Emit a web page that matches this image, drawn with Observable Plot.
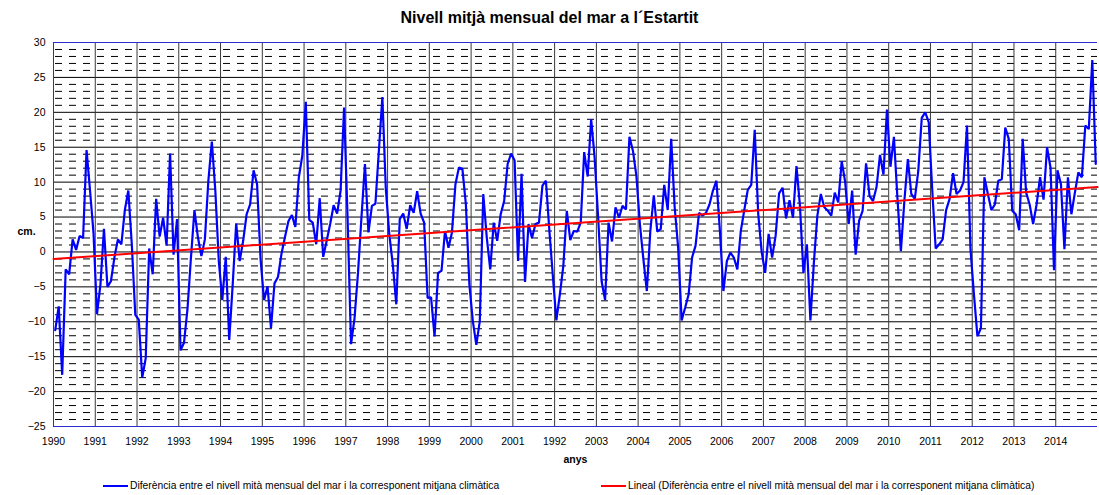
<!DOCTYPE html>
<html>
<head>
<meta charset="utf-8">
<script src="https://cdn.jsdelivr.net/npm/d3@7"></script>
<script src="https://cdn.jsdelivr.net/npm/@observablehq/plot@0.6"></script>
<style>
  html, body { margin: 0; padding: 0; background: #fff; }
  body { width: 1099px; height: 495px; overflow: hidden; font-family: Arial, "Liberation Sans", sans-serif; color: #000; }
  #title { height: 32px; line-height: 36px; text-align: center; font-weight: bold; font-size: 16px; }
  #chart svg { display: block; }
  #legend { position: relative; height: 23px; font-size: 10.3px; }
  .sw { position: absolute; top: 13px; height: 0; border-top: 2px solid; width: 25px; }
  .lt { position: absolute; top: 8px; white-space: nowrap; line-height: 12px; }
</style>
</head>
<body>
<div id="title">Nivell mitjà mensual del mar a l´Estartit</div>
<div id="chart"></div>
<div id="legend">
  <div class="sw" style="left:103px;border-color:#0000ff"></div>
  <div class="lt" style="left:130px">Diferència entre el nivell mità mensual del mar i la corresponent mitjana climàtica</div>
  <div class="sw" style="left:601px;border-color:#ff0000"></div>
  <div class="lt" style="left:628px">Lineal (Diferència entre el nivell mità mensual del mar i la corresponent mitjana climàtica)</div>
</div>
<script>
const startYear = 1990;
const yearLabels = ["1990","1991","1992","1993","1994","1995","1996","1997","1998","1999","2000","2001","1992","2003","2004","2005","2006","2007","2008","2009","2010","2011","2012","2013","2014"];
const yTicks = [-25, -20, -15, -10, -5, 0, 5, 10, 15, 20, 25, 30];
const xLabel = "anys";
const yLabel = "cm.";

// monthly difference (cm), Jan..Dec of each year from 1990 to 2014
const monthlyDiff = [
  /*1990*/ -11.2, -7.8, -17.6, -2.5, -3.2, 1.8, 0.3, 2.3, 2.0, 14.6, 8.8, 2.7,
  /*1991*/ -8.9, -4.6, 3.3, -5.0, -4.2, -0.8, 1.8, 1.1, 6.0, 8.8, 1.1, -9.0,
  /*1992*/ -9.7, -18.0, -15.2, 0.5, -3.2, 7.6, 2.2, 4.9, 0.9, 14.1, -0.4, 4.7,
  /*1993*/ -14.1, -13.0, -8.2, -0.8, 6.0, 2.1, -0.6, 1.8, 10.2, 15.8, 8.8, -1.3,
  /*1994*/ -6.9, -0.7, -12.6, -4.6, 4.1, -1.3, 1.6, 5.4, 6.8, 11.7, 9.7, -1.0,
  /*1995*/ -6.9, -4.9, -10.9, -4.5, -3.6, -0.3, 2.1, 4.4, 5.3, 3.6, 10.7, 13.8,
  /*1996*/ 21.5, 4.6, 4.2, 1.1, 7.7, -0.7, 1.6, 4.0, 6.7, 5.5, 8.8, 20.7,
  /*1997*/ 5.0, -13.2, -9.5, -3.0, 5.0, 12.6, 2.8, 6.6, 6.9, 14.5, 22.2, 9.0,
  /*1998*/ 2.5, -1.8, -7.5, 4.7, 5.5, 3.3, 6.7, 5.6, 8.7, 5.5, 4.2, -6.6,
  /*1999*/ -6.5, -12.1, -3.0, -2.7, 3.0, 0.6, 2.8, 9.7, 12.1, 11.9, 6.8, -4.6,
  /*2000*/ -9.9, -13.3, -9.9, 8.3, 2.1, -2.5, 4.2, 1.6, 5.4, 7.3, 12.6, 14.1,
  /*2001*/ 13.1, -1.3, 11.2, -4.3, 4.0, 2.0, 4.0, 4.2, 9.5, 10.2, 3.0, -3.5,
  /*2002*/ -9.8, -6.1, -2.0, 5.9, 1.7, 3.0, 2.9, 4.2, 14.3, 10.8, 19.0, 13.5,
  /*2003*/ 5.0, -4.2, -6.9, 4.2, 1.5, 6.4, 4.9, 6.6, 6.1, 16.5, 14.5, 10.9,
  /*2004*/ 4.0, -1.0, -5.6, 3.0, 8.1, 2.9, 3.3, 9.6, 6.0, 16.2, 6.4, 0.6,
  /*2005*/ -9.8, -8.0, -6.1, -0.8, 0.9, 5.6, 5.2, 5.6, 6.8, 8.8, 10.2, 3.0,
  /*2006*/ -5.6, -1.3, -0.1, -0.8, -2.5, 3.0, 6.0, 8.9, 9.6, 17.5, 5.5, 0.0,
  /*2007*/ -3.0, 2.6, -0.8, 2.3, 8.4, 9.2, 4.8, 7.4, 4.9, 12.3, 6.6, -3.0,
  /*2008*/ 1.1, -9.8, -1.5, 5.2, 8.3, 6.4, 5.9, 5.2, 8.5, 7.1, 13.0, 10.0,
  /*2009*/ 4.0, 8.8, -0.4, 4.5, 5.9, 12.7, 8.0, 7.3, 9.3, 13.9, 11.1, 20.4,
  /*2010*/ 12.2, 16.5, 7.8, 0.1, 7.3, 13.3, 8.3, 7.6, 11.6, 19.2, 20.0, 18.6,
  /*2011*/ 9.0, 0.5, 1.1, 1.8, 6.0, 7.6, 11.3, 8.3, 8.8, 10.0, 18.1, 0.4,
  /*2012*/ -6.1, -12.1, -10.9, 10.7, 8.3, 6.0, 6.8, 10.2, 10.4, 17.8, 16.2, 5.9,
  /*2013*/ 5.4, 3.1, 16.2, 8.5, 6.8, 4.0, 6.8, 10.7, 7.5, 15.0, 12.1, -2.6,
  /*2014*/ 11.7, 9.7, 0.4, 10.7, 5.4, 8.5, 11.4, 10.7, 18.1, 17.6, 27.5, 12.6
];

const years = d3.range(startYear, startYear + yearLabels.length);
const endYear = startYear + yearLabels.length;
const data = monthlyDiff.map((v, i) => ({t: startYear + (i + 0.5) / 12, v}));

// least-squares linear trend ("Lineal") of the monthly series
const mt = d3.mean(data, d => d.t), mv = d3.mean(data, d => d.v);
const slope = d3.sum(data, d => (d.t - mt) * (d.v - mv)) / d3.sum(data, d => (d.t - mt) ** 2);
const trend = [startYear, endYear].map(t => ({t, v: mv + slope * (t - mt)}));

const minorTicks = d3.range(yTicks[0], yTicks[yTicks.length - 1] + 1).filter(d => !yTicks.includes(d));
const frameBlue = "#2b2bd6";

const chart = Plot.plot({
  width: 1099,
  height: 440,
  marginTop: 10,
  marginLeft: 53,
  marginRight: 2,
  marginBottom: 46,
  x: {domain: [startYear, endYear]},
  y: {domain: [yTicks[0], yTicks[yTicks.length - 1]]},
  style: {fontFamily: "Arial, 'Liberation Sans', sans-serif", fontSize: "10px", color: "#000", background: "#fff", overflow: "visible"},
  marks: [
    Plot.ruleY(minorTicks, {stroke: "#000", strokeWidth: 1, strokeDasharray: "7,7", strokeDashoffset: -2}),
    Plot.ruleY(yTicks, {stroke: "#000", strokeWidth: 1}),
    Plot.ruleX(years.slice(1), {stroke: "#3a3a3a", strokeWidth: 1}),
    Plot.ruleX([startYear], {stroke: frameBlue, strokeWidth: 1}),
    Plot.ruleY([yTicks[0], yTicks[yTicks.length - 1]], {stroke: frameBlue, strokeWidth: 1}),
    Plot.axisY({ticks: yTicks, tickSize: 0, tickPadding: 8, label: null, fontSize: 10.5}),
    Plot.axisX({ticks: years, tickSize: 0, tickPadding: 11, tickFormat: d => yearLabels[d - startYear], label: null, fontSize: 10.5}),
    Plot.line(data, {x: "t", y: "v", stroke: "#0000ff", strokeWidth: 2.2, strokeLinejoin: "miter"}),
    Plot.line(trend, {x: "t", y: "v", stroke: "#ff0000", strokeWidth: 2}),
    Plot.text([xLabel], {text: d => d, frameAnchor: "bottom", dy: 36, fontWeight: "bold", fontSize: 10.5}),
    Plot.text([yLabel], {text: d => d, frameAnchor: "left", textAnchor: "middle", dx: -27, dy: -3, fontWeight: "bold", fontSize: 10.5})
  ]
});
document.getElementById("chart").appendChild(chart);
</script>
</body>
</html>
